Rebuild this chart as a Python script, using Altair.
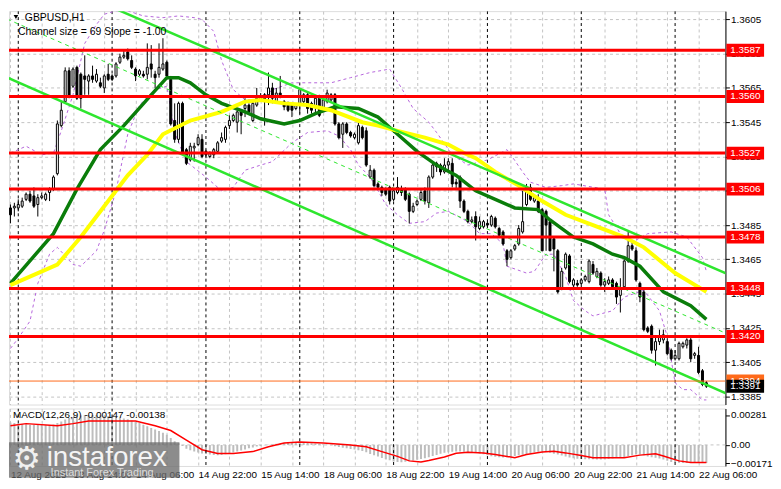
import altair as alt
import pandas as pd

# ---------------- data ----------------
time_labels = ["12 Aug 2025", "13 Aug 14:00", "14 Aug 06:00", "14 Aug 22:00", "15 Aug 14:00",
               "18 Aug 06:00", "18 Aug 22:00", "19 Aug 14:00", "20 Aug 06:00", "20 Aug 22:00",
               "21 Aug 14:00", "22 Aug 06:00"]

opens = [
    1.3495, 1.3495, 1.3495, 1.3496, 1.3500, 1.3503, 1.3502, 1.3497, 1.3501, 1.3500,
    1.3504, 1.3506, 1.3515, 1.3543, 1.3557, 1.3575, 1.3566, 1.3577, 1.3573, 1.3572,
    1.3569, 1.3572, 1.3569, 1.3568, 1.3565, 1.3573, 1.3572, 1.3572, 1.3580, 1.3583,
    1.3586, 1.3581, 1.3576, 1.3573, 1.3573, 1.3573, 1.3579, 1.3573, 1.3573, 1.3576,
    1.3580, 1.3570, 1.3546, 1.3535, 1.3556, 1.3529, 1.3523, 1.3530, 1.3532, 1.3535,
    1.3528, 1.3525, 1.3526, 1.3528, 1.3534, 1.3535, 1.3543, 1.3546, 1.3545, 1.3551,
    1.3553, 1.3555, 1.3546, 1.3555, 1.3560, 1.3561, 1.3561, 1.3565, 1.3557, 1.3562,
    1.3557, 1.3556, 1.3555, 1.3553, 1.3556, 1.3557, 1.3561, 1.3556, 1.3554, 1.3560,
    1.3552, 1.3557, 1.3558, 1.3561, 1.3544, 1.3538, 1.3544, 1.3539, 1.3536, 1.3533,
    1.3542, 1.3540, 1.3513, 1.3517, 1.3509, 1.3507, 1.3506, 1.3507, 1.3500, 1.3504,
    1.3506, 1.3506, 1.3503, 1.3493, 1.3497, 1.3500, 1.3505, 1.3498, 1.3513, 1.3521,
    1.3520, 1.3516, 1.3520, 1.3521, 1.3510, 1.3513, 1.3499, 1.3493, 1.3487, 1.3490,
    1.3483, 1.3484, 1.3486, 1.3485, 1.3489, 1.3483, 1.3481, 1.3470, 1.3466, 1.3471,
    1.3474, 1.3481, 1.3497, 1.3507, 1.3499, 1.3499, 1.3494, 1.3493, 1.3487, 1.3477,
    1.3470, 1.3448, 1.3460, 1.3467, 1.3450, 1.3451, 1.3451, 1.3453, 1.3452, 1.3462,
    1.3455, 1.3457, 1.3450, 1.3451, 1.3453, 1.3451, 1.3444, 1.3449, 1.3464, 1.3473,
    1.3470, 1.3451, 1.3446, 1.3425, 1.3426, 1.3412, 1.3417, 1.3418, 1.3417, 1.3412,
    1.3407, 1.3407, 1.3414, 1.3415, 1.3418, 1.3409, 1.3409, 1.3400, 1.3393]
highs = [
    1.3497, 1.3498, 1.3500, 1.3501, 1.3504, 1.3505, 1.3507, 1.3503, 1.3504, 1.3504,
    1.3507, 1.3514, 1.3546, 1.3557, 1.3577, 1.3577, 1.3577, 1.3578, 1.3574, 1.3584,
    1.3573, 1.3578, 1.3576, 1.3571, 1.3573, 1.3579, 1.3573, 1.3580, 1.3585, 1.3587,
    1.3588, 1.3584, 1.3577, 1.3576, 1.3575, 1.3591, 1.3590, 1.3575, 1.3591, 1.3594,
    1.3581, 1.3572, 1.3556, 1.3557, 1.3557, 1.3530, 1.3533, 1.3533, 1.3538, 1.3538,
    1.3529, 1.3528, 1.3530, 1.3534, 1.3539, 1.3543, 1.3549, 1.3550, 1.3552, 1.3552,
    1.3559, 1.3556, 1.3557, 1.3565, 1.3562, 1.3562, 1.3574, 1.3568, 1.3565, 1.3572,
    1.3558, 1.3557, 1.3556, 1.3556, 1.3565, 1.3562, 1.3562, 1.3557, 1.3560, 1.3561,
    1.3559, 1.3564, 1.3562, 1.3562, 1.3545, 1.3545, 1.3545, 1.3540, 1.3539, 1.3545,
    1.3543, 1.3542, 1.3520, 1.3518, 1.3510, 1.3508, 1.3507, 1.3508, 1.3506, 1.3513,
    1.3508, 1.3507, 1.3504, 1.3498, 1.3500, 1.3506, 1.3507, 1.3514, 1.3521, 1.3522,
    1.3521, 1.3524, 1.3524, 1.3524, 1.3512, 1.3514, 1.3500, 1.3494, 1.3490, 1.3493,
    1.3490, 1.3488, 1.3487, 1.3491, 1.3490, 1.3484, 1.3482, 1.3471, 1.3471, 1.3474,
    1.3485, 1.3505, 1.3509, 1.3509, 1.3503, 1.3503, 1.3495, 1.3494, 1.3488, 1.3478,
    1.3471, 1.3460, 1.3469, 1.3468, 1.3454, 1.3453, 1.3454, 1.3456, 1.3465, 1.3464,
    1.3460, 1.3458, 1.3454, 1.3455, 1.3454, 1.3452, 1.3454, 1.3465, 1.3481, 1.3475,
    1.3472, 1.3452, 1.3447, 1.3426, 1.3427, 1.3420, 1.3424, 1.3424, 1.3419, 1.3413,
    1.3412, 1.3417, 1.3417, 1.3419, 1.3420, 1.3411, 1.3414, 1.3401, 1.3394]
lows = [
    1.3486, 1.3490, 1.3493, 1.3495, 1.3499, 1.3498, 1.3495, 1.3490, 1.3500, 1.3499,
    1.3499, 1.3505, 1.3514, 1.3542, 1.3556, 1.3559, 1.3565, 1.3558, 1.3553, 1.3561,
    1.3561, 1.3568, 1.3568, 1.3565, 1.3562, 1.3569, 1.3569, 1.3571, 1.3579, 1.3582,
    1.3581, 1.3576, 1.3569, 1.3572, 1.3571, 1.3570, 1.3571, 1.3565, 1.3571, 1.3575,
    1.3570, 1.3543, 1.3533, 1.3533, 1.3526, 1.3520, 1.3522, 1.3522, 1.3531, 1.3524,
    1.3524, 1.3524, 1.3524, 1.3527, 1.3533, 1.3533, 1.3541, 1.3545, 1.3539, 1.3538,
    1.3548, 1.3550, 1.3545, 1.3554, 1.3557, 1.3543, 1.3555, 1.3556, 1.3556, 1.3559,
    1.3552, 1.3551, 1.3548, 1.3552, 1.3550, 1.3555, 1.3550, 1.3550, 1.3550, 1.3548,
    1.3551, 1.3556, 1.3557, 1.3543, 1.3535, 1.3530, 1.3538, 1.3536, 1.3535, 1.3532,
    1.3535, 1.3519, 1.3512, 1.3507, 1.3506, 1.3502, 1.3502, 1.3497, 1.3499, 1.3503,
    1.3502, 1.3499, 1.3486, 1.3492, 1.3496, 1.3499, 1.3497, 1.3495, 1.3512, 1.3516,
    1.3514, 1.3515, 1.3517, 1.3507, 1.3506, 1.3495, 1.3492, 1.3486, 1.3486, 1.3476,
    1.3482, 1.3483, 1.3484, 1.3484, 1.3483, 1.3478, 1.3473, 1.3461, 1.3465, 1.3470,
    1.3473, 1.3480, 1.3496, 1.3499, 1.3498, 1.3492, 1.3470, 1.3470, 1.3470, 1.3458,
    1.3445, 1.3447, 1.3459, 1.3451, 1.3447, 1.3449, 1.3450, 1.3452, 1.3451, 1.3456,
    1.3454, 1.3449, 1.3446, 1.3450, 1.3448, 1.3439, 1.3434, 1.3448, 1.3463, 1.3470,
    1.3452, 1.3440, 1.3423, 1.3422, 1.3410, 1.3403, 1.3415, 1.3416, 1.3409, 1.3406,
    1.3406, 1.3406, 1.3413, 1.3413, 1.3405, 1.3407, 1.3398, 1.3391, 1.3390]
closes = [
    1.3491, 1.3496, 1.3497, 1.3499, 1.3503, 1.3499, 1.3496, 1.3501, 1.3502, 1.3503,
    1.3506, 1.3513, 1.3544, 1.3552, 1.3575, 1.3560, 1.3576, 1.3559, 1.3559, 1.3570,
    1.3572, 1.3570, 1.3573, 1.3566, 1.3572, 1.3570, 1.3570, 1.3579, 1.3583, 1.3584,
    1.3582, 1.3577, 1.3572, 1.3575, 1.3572, 1.3577, 1.3576, 1.3571, 1.3577, 1.3579,
    1.3572, 1.3544, 1.3535, 1.3556, 1.3527, 1.3521, 1.3531, 1.3531, 1.3536, 1.3525,
    1.3526, 1.3527, 1.3529, 1.3533, 1.3536, 1.3542, 1.3546, 1.3549, 1.3551, 1.3549,
    1.3555, 1.3551, 1.3556, 1.3559, 1.3558, 1.3558, 1.3565, 1.3559, 1.3562, 1.3560,
    1.3554, 1.3552, 1.3552, 1.3555, 1.3564, 1.3561, 1.3553, 1.3552, 1.3559, 1.3549,
    1.3558, 1.3562, 1.3561, 1.3544, 1.3536, 1.3544, 1.3539, 1.3537, 1.3538, 1.3543,
    1.3536, 1.3520, 1.3517, 1.3508, 1.3507, 1.3504, 1.3503, 1.3499, 1.3505, 1.3507,
    1.3504, 1.3500, 1.3493, 1.3496, 1.3499, 1.3504, 1.3499, 1.3513, 1.3520, 1.3519,
    1.3516, 1.3520, 1.3522, 1.3509, 1.3509, 1.3499, 1.3493, 1.3487, 1.3488, 1.3484,
    1.3487, 1.3487, 1.3485, 1.3490, 1.3484, 1.3479, 1.3474, 1.3465, 1.3470, 1.3473,
    1.3483, 1.3487, 1.3507, 1.3500, 1.3501, 1.3493, 1.3470, 1.3485, 1.3470, 1.3471,
    1.3446, 1.3458, 1.3468, 1.3452, 1.3453, 1.3450, 1.3453, 1.3455, 1.3464, 1.3457,
    1.3458, 1.3450, 1.3452, 1.3453, 1.3449, 1.3443, 1.3448, 1.3464, 1.3473, 1.3471,
    1.3453, 1.3443, 1.3424, 1.3423, 1.3412, 1.3417, 1.3420, 1.3421, 1.3410, 1.3407,
    1.3409, 1.3416, 1.3416, 1.3418, 1.3407, 1.3410, 1.3399, 1.3392, 1.3391]

ma_green_idx = [0, 11, 17, 23, 29, 36, 40, 43, 46, 50, 54, 60, 64, 70, 74, 78, 83, 89, 94, 98,
                104, 109, 114, 119, 124, 129, 135, 138, 144, 149, 154, 157, 161, 167, 174, 178]
ma_green_val = [1.3451, 1.3480, 1.3506, 1.3529, 1.3543, 1.3561, 1.3571, 1.3571, 1.3568, 1.3561,
                1.3556, 1.3551, 1.3547, 1.3544, 1.3546, 1.3550, 1.3554, 1.3553, 1.3548, 1.3540,
                1.3528, 1.3520, 1.3514, 1.3505, 1.3500, 1.3495, 1.3494, 1.3488, 1.3478, 1.3474,
                1.3468, 1.3466, 1.3461, 1.3446, 1.3438, 1.3430]

ma_yellow_idx = [0, 12, 18, 27, 30, 35, 39, 46, 54, 60, 64, 70, 76, 82, 90, 94, 99, 106, 112, 116,
                 119, 124, 130, 136, 142, 149, 157, 162, 170, 178]
ma_yellow_val = [1.3450, 1.3462, 1.3478, 1.3505, 1.3514, 1.3526, 1.3538, 1.3546, 1.3551, 1.3557,
                 1.3558, 1.3556, 1.3555, 1.3552, 1.3545, 1.3543, 1.3540, 1.3536, 1.3532, 1.3527,
                 1.3524, 1.3516, 1.3508, 1.3499, 1.3491, 1.3485, 1.3478, 1.3472, 1.3457, 1.3446]

bb_up_idx = [0, 4, 8, 11, 13, 16, 19, 22, 24, 27, 30, 34, 39, 43, 47, 49, 52, 54, 57, 60,
             64, 67, 72, 77, 82, 87, 92, 97, 100, 103, 107, 109, 113, 117, 122, 127, 128, 131, 133, 137,
             141, 144, 152, 153, 156, 159, 163, 169, 173, 177, 178]
bb_up_val = [1.3527, 1.3531, 1.3526, 1.3527, 1.3540, 1.3561, 1.3591, 1.3602, 1.3608, 1.3610,
             1.3610, 1.3607, 1.3606, 1.3607, 1.3606, 1.3605, 1.3598, 1.3581, 1.3564, 1.3558,
             1.3558, 1.3564, 1.3568, 1.3568, 1.3568, 1.3571, 1.3574, 1.3576, 1.3565, 1.3553,
             1.3545, 1.3539, 1.3526, 1.3520, 1.3523, 1.3529, 1.3526, 1.3516, 1.3510, 1.3507,
             1.3508, 1.3509, 1.3506, 1.3491, 1.3480, 1.3475, 1.3480, 1.3481, 1.3478, 1.3466,
             1.3458]

bb_lo_idx = [0, 2, 5, 7, 10, 12, 16, 18, 22, 24, 27, 30, 33, 37, 40, 42, 45, 50, 54, 57,
             60, 64, 67, 72, 76, 81, 84, 87, 89, 92, 96, 99, 102, 106, 109, 112, 117, 120, 123, 126,
             127, 132, 134, 137, 139, 142, 144, 147, 149, 154, 157, 162, 166, 168, 170, 172, 174, 177, 178]
bb_lo_val = [1.3413, 1.3419, 1.3429, 1.3451, 1.3468, 1.3472, 1.3462, 1.3461, 1.3470, 1.3482,
             1.3505, 1.3538, 1.3555, 1.3564, 1.3566, 1.3539, 1.3522, 1.3513, 1.3505, 1.3507,
             1.3517, 1.3520, 1.3522, 1.3533, 1.3539, 1.3540, 1.3537, 1.3529, 1.3520, 1.3513,
             1.3497, 1.3491, 1.3486, 1.3487, 1.3492, 1.3493, 1.3487, 1.3480, 1.3480, 1.3474,
             1.3461, 1.3457, 1.3458, 1.3468, 1.3468, 1.3455, 1.3441, 1.3435, 1.3432, 1.3435,
             1.3443, 1.3447, 1.3435, 1.3420, 1.3393, 1.3389, 1.3389, 1.3383, 1.3383]

chan_upper_idx = [26.0, 184.37]
chan_upper_val = [1.3612, 1.34555]
chan_mid_idx = [-0.875, 184.37]
chan_mid_val = [1.36052, 1.34205]
chan_lower_idx = [-0.875, 184.37]
chan_lower_val = [1.35711, 1.33855]

levels = [1.3587, 1.3560, 1.3527, 1.3506, 1.3478, 1.3448, 1.3420]
bid_level = 1.3394
last_price = 1.3391
price_ticks = [1.3605, 1.3585, 1.3565, 1.3545, 1.3525, 1.3505, 1.3485, 1.3465, 1.3445,
               1.3425, 1.3405, 1.3385]
day_breaks = [2, 26, 50, 74, 98, 122, 146, 170]

macd_hist = [
    0.00210, 0.00205, 0.00200, 0.00196, 0.00193, 0.00190, 0.00188, 0.00186, 0.00186, 0.00187,
    0.00188, 0.00192, 0.00205, 0.00220, 0.00238, 0.00252, 0.00262, 0.00270, 0.00276, 0.00280,
    0.00281, 0.00281, 0.00280, 0.00278, 0.00275, 0.00271, 0.00266, 0.00260, 0.00254, 0.00248,
    0.00240, 0.00230, 0.00218, 0.00205, 0.00190, 0.00175, 0.00160, 0.00145, 0.00130, 0.00115,
    0.00095, 0.00065, 0.00035, 0.00015, -0.00010, -0.00035, -0.00050, -0.00062, -0.00072, -0.00080,
    -0.00086, -0.00091, -0.00094, -0.00096, -0.00094, -0.00088, -0.00080, -0.00072, -0.00062, -0.00052,
    -0.00042, -0.00032, -0.00024, -0.00016, -0.00010, -0.00004, 0.00002, 0.00007, 0.00011, 0.00014,
    0.00016, 0.00018, 0.00018, 0.00018, 0.00019, 0.00019, 0.00018, 0.00016, 0.00013, 0.00010,
    0.00006, 0.00002, -0.00004, -0.00012, -0.00020, -0.00026, -0.00032, -0.00038, -0.00044, -0.00050,
    -0.00058, -0.00070, -0.00085, -0.00098, -0.00110, -0.00122, -0.00134, -0.00145, -0.00155, -0.00161,
    -0.00162, -0.00158, -0.00152, -0.00146, -0.00140, -0.00133, -0.00125, -0.00117, -0.00105, -0.00094,
    -0.00082, -0.00074, -0.00068, -0.00064, -0.00062, -0.00063, -0.00065, -0.00067, -0.00070, -0.00074,
    -0.00080, -0.00088, -0.00097, -0.00106, -0.00112, -0.00116, -0.00118, -0.00117, -0.00112, -0.00104,
    -0.00098, -0.00092, -0.00088, -0.00080, -0.00070, -0.00064, -0.00062, -0.00066, -0.00074, -0.00082,
    -0.00090, -0.00100, -0.00110, -0.00118, -0.00126, -0.00130, -0.00133, -0.00135, -0.00135, -0.00135,
    -0.00136, -0.00136, -0.00135, -0.00132, -0.00128, -0.00124, -0.00120, -0.00115, -0.00105, -0.00096,
    -0.00090, -0.00090, -0.00098, -0.00108, -0.00116, -0.00120, -0.00128, -0.00138, -0.00150, -0.00160,
    -0.00165, -0.00168, -0.00170, -0.00171, -0.00171, -0.00170, -0.00171, -0.00171, -0.00171]

signal_idx = [0, 4, 12, 16, 20, 32, 37, 41, 45, 49, 53, 57, 62, 66, 70, 74, 80, 87, 91, 95,
              99, 102, 105, 107, 111, 114, 117, 121, 124, 129, 132, 136, 139, 142, 146, 149, 157, 161, 165, 167,
              171, 174, 178]
signal_val = [0.00180, 0.00200, 0.00180, 0.00200, 0.00225, 0.00225, 0.00180, 0.00135, 0.00045, -0.00045,
              -0.00080, -0.00080, -0.00063, -0.00018, 0.00018, 0.00027, 0.00018, 0.0, -0.00018, -0.00063,
              -0.00108, -0.00150, -0.00160, -0.00147, -0.00114, -0.00078, -0.00070, -0.00075, -0.00090, -0.00120,
              -0.00090, -0.00066, -0.00060, -0.00075, -0.00100, -0.00120, -0.00120, -0.00096, -0.00084, -0.00105,
              -0.00150, -0.00165, -0.00165]
macd_ticks = [0.00281, 0.0, -0.00171]

# ---------------- layout / scales ----------------
W, HM, HD = 723, 397, 58
GRID = "#c3c3c3"
FONT = "Liberation Sans"
xs = alt.Scale(domain=[-0.375, 182.875], nice=False, zero=False, padding=0)
ys = alt.Scale(domain=[1.33803, 1.36098], nice=False, zero=False, padding=0)
ms = alt.Scale(domain=[-0.00198, 0.00342], nice=False, zero=False, padding=0)

grid_vals = list(range(0, 183, 8))
x_main_axis = alt.Axis(values=grid_vals, grid=True, gridColor=GRID, gridDash=[3, 3],
                       labels=False, ticks=False, domain=False, title=None)
y_main_axis = alt.Axis(orient="right", values=price_ticks, format=".4f", grid=True,
                       gridColor=GRID, gridDash=[3, 3], tickSize=4, tickColor="black",
                       domainColor="black", labelColor="black", labelFontSize=10,
                       labelFont=FONT, labelPadding=1, labelOverlap=False, labelFlush=False,
                       title=None)
lab_arr = "[" + ",".join("'" + t + "'" for t in time_labels) + "]"
x_macd_axis = alt.Axis(values=grid_vals, grid=True, gridColor=GRID, gridDash=[3, 3],
                       ticks=False, domain=False,
                       labelExpr="datum.value % 16 == 0 ? " + lab_arr + "[datum.value / 16] : ''",
                       labelAlign="left", labelPadding=4, labelFontSize=10, labelFont=FONT,
                       labelColor="black", labelOverlap=False, labelFlush=False, title=None)
y_macd_axis = alt.Axis(orient="right", values=macd_ticks,
                       labelExpr="abs(datum.value) < 1e-9 ? '0.00' : format(datum.value, '.5f')",
                       grid=False, tickSize=4, tickColor="black", domainColor="black",
                       labelColor="black", labelFontSize=10, labelFont=FONT, labelPadding=1,
                       labelOverlap=False, labelFlush=False, title=None)


def XM(f="i"):
    return alt.X(f + ":Q", scale=xs, axis=x_main_axis)


def YM(f):
    return alt.Y(f + ":Q", scale=ys, axis=y_main_axis)


def XD(f="i"):
    return alt.X(f + ":Q", scale=xs, axis=x_macd_axis)


def YD(f):
    return alt.Y(f + ":Q", scale=ms, axis=y_macd_axis)


def series_line(idx, vals, color, width, dash=None):
    d = pd.DataFrame({"i": idx, "p": vals})
    kw = dict(color=color, strokeWidth=width, clip=True)
    if dash is not None:
        kw["strokeDash"] = dash
    return alt.Chart(d).mark_line(**kw).encode(x=XM(), y=YM("p"))


one = pd.DataFrame({"a": [0]})


def label_text(txt, x, y, size=10, color="black", align="left", baseline="middle", font=FONT):
    return alt.Chart(one).mark_text(text=txt, fontSize=size, color=color, align=align,
                                    baseline=baseline, font=font).encode(
        x=alt.value(x), y=alt.value(y))


# ---------------- main price panel ----------------
cdf = pd.DataFrame({"i": list(range(len(opens))), "o": opens, "h": highs, "l": lows, "c": closes})
seps = alt.Chart(pd.DataFrame({"i": day_breaks})).mark_rule(
    color="black", strokeWidth=1, strokeDash=[3, 3], clip=True).encode(x=XM())

bb_up = series_line(bb_up_idx, bb_up_val, "#b565dc", 1, [3, 3])
bb_lo = series_line(bb_lo_idx, bb_lo_val, "#b565dc", 1, [3, 3])

wick = alt.Chart(cdf).mark_rule(color="black", strokeWidth=1, clip=True).encode(
    x=XM(), y=YM("l"), y2="h:Q")
body = alt.Chart(cdf).mark_bar(size=2, stroke="black", strokeWidth=1, clip=True).encode(
    x=XM(), y=YM("o"), y2="c:Q",
    fill=alt.condition("datum.c >= datum.o", alt.value("white"), alt.value("black")))

ma_green = series_line(ma_green_idx, ma_green_val, "#0a7d0a", 3.5)
ma_yellow = series_line(ma_yellow_idx, ma_yellow_val, "#ffff00", 4)

ch_up = series_line(chan_upper_idx, chan_upper_val, "#2ee62e", 2.5)
ch_lo = series_line(chan_lower_idx, chan_lower_val, "#2ee62e", 2.5)
ch_mid = series_line(chan_mid_idx, chan_mid_val, "#2ee62e", 1, [4, 4])

red_lines = alt.Chart(pd.DataFrame({"p": levels})).mark_rule(
    color="#ff0000", strokeWidth=3, clip=True).encode(y=YM("p"))
bid_line = alt.Chart(pd.DataFrame({"p": [bid_level]})).mark_rule(
    color="#ff6a1a", strokeWidth=1, clip=True).encode(y=YM("p"))

box_df = pd.DataFrame({
    "p": [bid_level] + levels + [last_price],
    "label": ["%.4f" % v for v in [bid_level] + levels + [last_price]],
    "col": ["#ff6a1a"] + ["#ff0000"] * len(levels) + ["#000000"],
    "ord": list(range(len(levels) + 2)),
})
boxes = alt.Chart(box_df).mark_tick(orient="horizontal", size=38, thickness=13, opacity=1).encode(
    x=alt.value(W + 20), y=YM("p"),
    color=alt.Color("col:N", scale=None), order="ord:Q")
box_txt = alt.Chart(box_df).mark_text(color="white", fontSize=10, font=FONT,
                                      align="center", baseline="middle").encode(
    x=alt.value(W + 20), y=YM("p"), text="label:N", order="ord:Q")

tri = alt.Chart(one).mark_point(shape="triangle-down", filled=True, color="black",
                                size=22, opacity=1).encode(x=alt.value(7), y=alt.value(6))
t1 = label_text("GBPUSD,H1", 16, 6.5, size=10.5)
t2 = label_text("Channel size = 69 Slope = -1.00", 9, 21, size=10.5)

main = alt.layer(seps, bb_up, bb_lo, wick, body, ma_green, ma_yellow, ch_up, ch_lo, ch_mid,
                 red_lines, bid_line, boxes, box_txt, tri, t1, t2).properties(width=W, height=HM)

# ---------------- MACD panel ----------------
mdf = pd.DataFrame({"i": list(range(len(macd_hist))), "v": macd_hist, "z": 0.0})
zero_line = alt.Chart(pd.DataFrame({"v": [0.0]})).mark_rule(
    color=GRID, strokeDash=[3, 3]).encode(y=YD("v"))
hist = alt.Chart(mdf).mark_bar(size=2, color="#bdbdbd", clip=True).encode(
    x=XD(), y=YD("v"), y2="z:Q")
sig = alt.Chart(pd.DataFrame({"i": signal_idx, "v": signal_val})).mark_line(
    color="#ff0000", strokeWidth=1.5, clip=True).encode(x=XD(), y=YD("v"))
seps2 = alt.Chart(pd.DataFrame({"i": day_breaks})).mark_rule(
    color="black", strokeWidth=1, strokeDash=[3, 3], clip=True).encode(x=XD())
mt = label_text("MACD(12,26,9) -0.00147 -0.00138", 4, 7)

logo_box = alt.Chart(one).mark_rect(color="#6c6c6c", opacity=0.78).encode(
    x=alt.value(0), x2=alt.value(172), y=alt.value(34), y2=alt.value(70))
gear = label_text("\u2699", 18, 51, size=32, color="#f0f0f0", align="center", font="DejaVu Sans")
logo1 = label_text("instaforex", 38, 58, size=28, color="#f4f4f4", baseline="alphabetic")
logo2 = label_text("Instant Forex Trading", 42, 68, size=11, color="#dcdcdc", baseline="alphabetic")

macd = alt.layer(zero_line, hist, sig, seps2, mt, logo_box, gear, logo1, logo2).properties(
    width=W, height=HD)

chart = alt.vconcat(main, macd, spacing=2).properties(
    padding=0, background="white"
).configure_view(stroke="black", strokeWidth=1).configure(font=FONT)

chart.save("out.html", embed_options={"renderer": "svg", "actions": False})
